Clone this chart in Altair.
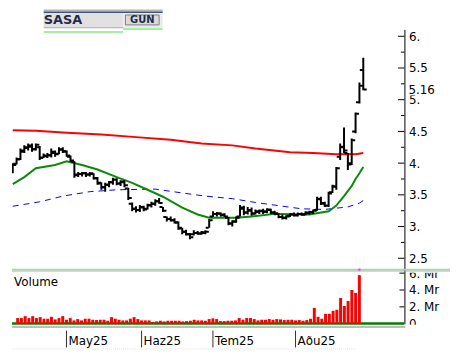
import altair as alt
import pandas as pd

# ---------------- data ----------------
opens = [3.86,3.99,4.06,4.18,4.24,4.26,4.22,4.25,4.09,4.11,
         4.12,4.16,4.15,4.21,4.18,4.10,4.02,3.82,3.83,3.84,
         3.82,3.83,3.76,3.68,3.62,3.66,3.70,3.74,3.68,3.70,
         3.60,3.36,3.28,3.26,3.30,3.28,3.33,3.36,3.40,3.31,
         3.15,3.12,3.10,3.06,2.97,2.92,2.88,2.88,2.90,2.89,
         2.90,2.98,3.16,3.20,3.20,3.18,3.14,3.05,3.08,3.16,
         3.28,3.22,3.25,3.21,3.23,3.24,3.24,3.26,3.22,3.20,
         3.15,3.14,3.17,3.19,3.18,3.20,3.19,3.21,3.22,3.26,
         3.43,3.37,3.33,3.54,3.63,4.10,4.25,4.16,4.00,4.50,
         4.96,5.47]
highs = [4.00,4.09,4.23,4.28,4.31,4.31,4.31,4.27,4.15,4.16,
         4.23,4.20,4.25,4.25,4.20,4.12,4.03,3.86,3.86,3.86,
         3.86,3.84,3.78,3.70,3.69,3.72,3.77,3.76,3.73,3.73,
         3.61,3.38,3.32,3.34,3.33,3.36,3.39,3.43,3.45,3.31,
         3.16,3.16,3.13,3.08,2.98,2.95,2.90,2.94,2.93,2.93,
         2.94,3.12,3.24,3.23,3.22,3.21,3.15,3.10,3.16,3.34,
         3.33,3.31,3.30,3.27,3.27,3.28,3.29,3.28,3.25,3.21,
         3.19,3.18,3.21,3.22,3.22,3.22,3.24,3.25,3.27,3.47,
         3.47,3.39,3.55,3.66,3.94,4.31,4.56,4.16,4.39,4.80,
         5.27,5.66]
lows = [3.84,3.98,4.05,4.16,4.20,4.18,4.20,4.05,4.08,4.08,
        4.09,4.10,4.14,4.16,4.10,4.02,3.77,3.78,3.79,3.78,
        3.79,3.74,3.66,3.58,3.55,3.62,3.66,3.65,3.64,3.62,
        3.42,3.24,3.22,3.23,3.24,3.27,3.30,3.33,3.36,3.23,
        3.08,3.08,3.05,2.95,2.88,2.86,2.80,2.86,2.87,2.87,
        2.88,2.98,3.15,3.16,3.16,3.15,3.02,3.00,3.06,3.16,
        3.18,3.19,3.17,3.19,3.20,3.20,3.21,3.20,3.18,3.13,
        3.11,3.11,3.15,3.16,3.16,3.17,3.18,3.19,3.20,3.25,
        3.34,3.31,3.31,3.53,3.58,4.05,4.16,3.89,3.97,4.47,
        4.94,5.15]
closes = [3.97,4.06,4.20,4.25,4.28,4.22,4.29,4.08,4.12,4.13,
          4.18,4.14,4.22,4.19,4.12,4.04,3.81,3.83,3.84,3.82,
          3.84,3.76,3.69,3.62,3.66,3.70,3.74,3.68,3.71,3.65,
          3.45,3.28,3.26,3.31,3.27,3.34,3.36,3.40,3.37,3.25,
          3.12,3.10,3.07,2.98,2.92,2.88,2.83,2.90,2.89,2.91,
          2.92,3.10,3.20,3.21,3.19,3.16,3.05,3.08,3.14,3.30,
          3.22,3.26,3.20,3.24,3.25,3.23,3.27,3.22,3.21,3.15,
          3.14,3.16,3.19,3.18,3.20,3.19,3.22,3.23,3.25,3.44,
          3.36,3.33,3.52,3.63,3.92,4.26,4.20,3.98,4.36,4.78,
          5.22,5.16]
volume_mr = [0.67,0.67,0.90,0.67,0.90,0.67,0.78,0.59,0.59,0.82,
             0.51,0.67,0.90,0.47,0.67,0.39,0.55,0.39,0.59,0.59,
             0.47,0.43,0.47,0.47,0.35,0.78,0.59,0.47,0.39,0.39,
             0.59,0.78,0.55,0.39,0.39,0.39,0.20,0.27,0.35,0.27,
             0.35,0.35,0.35,0.35,0.27,0.31,0.35,0.47,0.39,0.39,
             0.35,0.55,0.63,0.55,0.31,0.31,0.35,0.35,0.39,0.67,
             0.47,0.67,0.67,0.55,0.39,0.47,0.47,0.55,0.47,0.55,
             0.51,0.43,0.47,0.47,0.39,0.43,0.35,0.43,0.59,1.88,
             0.82,0.59,1.18,1.18,1.53,1.65,3.06,2.10,2.70,4.00,
             3.65,5.76]

ma_green_idx = [0,3,6,11,14,18,22,27,31,35,39,44,48,51,58,62,68,77,82,84,86,88,89,90,91]
ma_green_val = [3.67,3.78,3.92,3.97,4.03,3.97,3.90,3.78,3.69,3.58,3.47,3.30,3.19,3.14,3.14,3.16,3.20,3.19,3.24,3.33,3.48,3.64,3.75,3.84,3.94]
ma_blue_idx = [0,7,13,20,27,37,44,50,57,63,69,75,81,87,90,91]
ma_blue_val = [3.32,3.39,3.48,3.55,3.58,3.59,3.53,3.48,3.44,3.38,3.33,3.28,3.27,3.31,3.37,3.41]
ma_red_idx = [0,6,14,23,32,41,49,57,63,72,78,84,89,91]
ma_red_val = [4.52,4.51,4.48,4.45,4.41,4.37,4.31,4.28,4.23,4.17,4.16,4.14,4.14,4.16]

month_idx = [13, 33, 52, 74]
month_labels = ["May25", "Haz25", "Tem25", "Aðu25"]
price_major = [2.5, 3.0, 3.5, 4.0, 4.5, 5.0, 5.5, 6.0]
price_minor = [2.75, 3.25, 3.75, 4.25, 4.75, 5.25, 5.75]
vol_ticks = [0, 2, 4, 6]
last_label = "5.16"
symbol = "SASA"
button = "GUN"

# ---------------- layout ----------------
FONT = "DejaVu Sans"
W, PH, VH = 396, 242, 55
RIGHT = 442  # rightmost content pixel (keeps page from overflowing)
xs = alt.Scale(domain=[-0.2, 101.68], nice=False, zero=False)
ys = alt.Scale(domain=[2.328, 6.109], nice=False, zero=False)
vs = alt.Scale(domain=[0, 6.47], nice=False, zero=False)

n = len(closes)
df = pd.DataFrame({"i": list(range(n)), "open": opens, "high": highs,
                   "low": lows, "close": closes, "vol": volume_mr})
one = pd.DataFrame({"k": [0]})

X = alt.X("i:Q", scale=xs, axis=None)

price_axis = alt.Axis(orient="right", values=price_major, ticks=False,
                      domainColor="black", domainWidth=1, grid=False, title=None,
                      labelFont=FONT, labelFontSize=12, labelColor="black",
                      labelPadding=4, labelOverlap=False,
                      labelExpr="datum.value % 1 == 0 ? datum.value + '.' : datum.value + ''")

def PY(field):
    return alt.Y(field, scale=ys, axis=price_axis)

base = alt.Chart(df)

def ma_layer(idx, val, color, width, dash=None):
    d = pd.DataFrame({"i": idx, "v": val})
    kw = dict(color=color, strokeWidth=width)
    if dash:
        kw["strokeDash"] = dash
    return alt.Chart(d).mark_line(**kw).encode(x=X, y=PY("v:Q"))

red = ma_layer(ma_red_idx, ma_red_val, "#ff0000", 2)
blue = ma_layer(ma_blue_idx, ma_blue_val, "#0000ff", 1, [6, 5])
green = ma_layer(ma_green_idx, ma_green_val, "#0a8a0a", 2)

hl = base.mark_rule(color="black", strokeWidth=2, clip=True).encode(
    x=X, y=PY("low:Q"), y2="high:Q")
op = base.mark_tick(orient="horizontal", size=3, thickness=2, xOffset=-2,
                    color="black", opacity=1, clip=True).encode(x=X, y=PY("open:Q"))
cl = base.mark_tick(orient="horizontal", size=3, thickness=2, xOffset=2,
                    color="black", opacity=1, clip=True).encode(x=X, y=PY("close:Q"))

maj = alt.Chart(pd.DataFrame({"v": price_major})).mark_rule(color="black").encode(
    y=PY("v:Q"), x=alt.value(389.5), x2=alt.value(396))
mnr = alt.Chart(pd.DataFrame({"v": price_minor})).mark_rule(color="black").encode(
    y=PY("v:Q"), x=alt.value(392.5), x2=alt.value(396))

lastdf = pd.DataFrame({"p": [closes[-1]], "t": [last_label]})
last_box = alt.Chart(lastdf).mark_tick(orient="horizontal", size=38, thickness=12,
                                       color="white", opacity=1).encode(
    y=PY("p:Q"), x=alt.value(418))
last_txt = alt.Chart(lastdf).mark_text(align="left", baseline="middle", font=FONT,
                                       fontSize=12, color="black").encode(
    y=PY("p:Q"), x=alt.value(400), text="t:N")

hdr = alt.Chart(one)
def hrect(x1, x2, y1, y2, fill, stroke=None):
    kw = dict(color=fill)
    if stroke:
        kw = dict(fill=fill, stroke=stroke, strokeWidth=1)
    return hdr.mark_rect(**kw).encode(x=alt.value(x1), x2=alt.value(x2),
                                      y=alt.value(y1), y2=alt.value(y2))

header = [
    hrect(32, 152, -20, -18, "#b4b4b4"),
    hrect(32, 152, -18, -16.5, "#3b5878"),
    hrect(32, 112, -16.5, -2, "#e1e1e1"),
    hrect(112, 152, -16.5, -1, "#ececec"),
    hrect(114.5, 148.5, -14.5, -4.5, "#dadada", "#808080"),
    hrect(32, 112, -2, -1, "#a8a8a8"),
    hrect(32, 112, 2, 3.5, "#80f080"),
    hrect(112, 152, -1, 0.5, "#80f080"),
    hdr.mark_text(text=symbol, align="left", baseline="alphabetic", font=FONT,
                  fontSize=13, fontWeight="bold", color="#1e2d4d").encode(
        x=alt.value(32), y=alt.value(-5)),
    hdr.mark_text(text=button, align="center", baseline="alphabetic", font=FONT,
                  fontSize=10, fontWeight="bold", color="#1e2d4d").encode(
        x=alt.value(131.5), y=alt.value(-6.5)),
]

price = alt.layer(red, blue, green, hl, op, cl, maj, mnr, last_box, last_txt,
                  *header).properties(width=W, height=PH)

# ---------------- volume panel ----------------
vol_axis = alt.Axis(orient="right", values=vol_ticks, ticks=False,
                    domainColor="black", domainWidth=1, grid=False, title=None,
                    labelFont=FONT, labelFontSize=12, labelColor="black",
                    labelPadding=4, labelOverlap=False,
                    labelExpr="datum.value == 0 ? '0' : datum.value + '. Mr'")

def VY(field):
    return alt.Y(field, scale=vs, axis=vol_axis)

vone = alt.Chart(one)
baseline_g = vone.mark_rule(color="#008000", strokeWidth=2.5).encode(
    x=alt.value(0), x2=alt.value(396), y=alt.value(54.8))
bars = base.mark_bar(color="#ff0000", size=3).encode(x=X, y=VY("vol:Q"))
vt = alt.Chart(pd.DataFrame({"v": [2, 4, 6]})).mark_rule(color="black").encode(
    y=VY("v:Q"), x=alt.value(391), x2=alt.value(396))
cover_top = vone.mark_rect(color="white").encode(
    x=alt.value(398), x2=alt.value(RIGHT), y=alt.value(-6), y2=alt.value(3.6))
cover_bot = vone.mark_rect(color="white").encode(
    x=alt.value(398), x2=alt.value(RIGHT), y=alt.value(56), y2=alt.value(63))
sep_g = vone.mark_rule(color="#86ee86", strokeWidth=1.6).encode(
    x=alt.value(0), x2=alt.value(RIGHT), y=alt.value(0.3))
sep_gray = vone.mark_rule(color="#a8a8a8", strokeWidth=1).encode(
    x=alt.value(0), x2=alt.value(RIGHT), y=alt.value(1.8))
bottom_line = vone.mark_rule(color="#a8a8a8", strokeWidth=1.6).encode(
    x=alt.value(0), x2=alt.value(397), y=alt.value(58.3))
faint_line = vone.mark_rule(color="#e4e4e4", strokeWidth=1, strokeDash=[1, 1]).encode(
    x=alt.value(0), x2=alt.value(347), y=alt.value(80.5))
vol_title = vone.mark_text(text="Volume", align="left", baseline="alphabetic",
                           font=FONT, fontSize=12, color="black").encode(
    x=alt.value(2), y=alt.value(17))
mdf = pd.DataFrame({"i": month_idx, "m": month_labels})
mticks = alt.Chart(mdf).mark_rule(color="#303030", strokeWidth=1).encode(
    x=X, y=alt.value(62), y2=alt.value(79))
mlabels = alt.Chart(mdf).mark_text(align="left", baseline="alphabetic", dx=2,
                                   font=FONT, fontSize=12, color="black").encode(
    x=X, y=alt.value(76.5), text="m:N")
marker = alt.Chart(df.tail(1)).mark_square(size=5, color="#ff33ff", opacity=1).encode(
    x=X, y=alt.value(0.5))

volume = alt.layer(baseline_g, bars, vt, cover_top, cover_bot, sep_g, sep_gray,
                   marker, bottom_line, faint_line, vol_title, mticks, mlabels
                   ).properties(width=W, height=VH)

chart = alt.vconcat(price, volume, spacing=0, bounds="flush").properties(
    padding=0, background="white"
).configure_view(stroke=None)

chart.save("out.html", embed_options={"renderer": "svg", "actions": False})
